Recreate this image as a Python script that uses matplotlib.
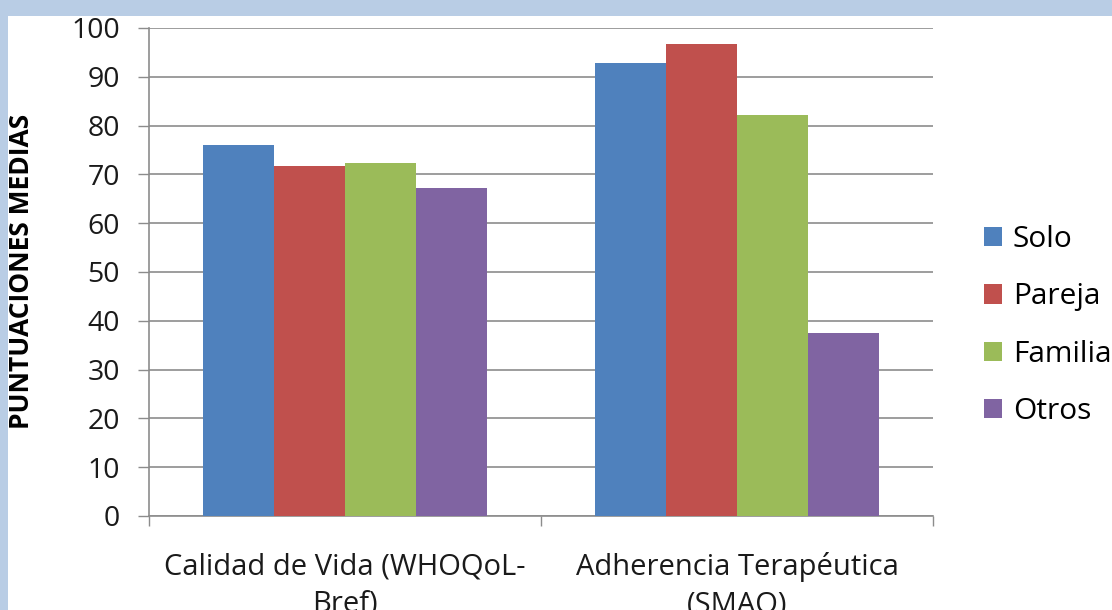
import matplotlib
matplotlib.use("Agg")
import matplotlib.pyplot as plt
from matplotlib.patches import Rectangle
import numpy as np

categories = ["Calidad de Vida (WHOQoL-\nBref)", "Adherencia Terapéutica\n(SMAQ)"]
series = ["Solo", "Pareja", "Familia", "Otros"]
values = {
    "Solo": [76.0, 92.8],
    "Pareja": [71.7, 96.8],
    "Familia": [72.4, 82.1],
    "Otros": [67.3, 37.5],
}
colors = ["#4F81BD", "#C0504D", "#9BBB59", "#8064A2"]
yticks = list(range(0, 101, 10))

plt.rcParams['font.family'] = ['Open Sans', 'DejaVu Sans']

fig = plt.figure(figsize=(11.12, 6.10), dpi=100)
fig.patch.set_facecolor("white")
fig.patches.append(Rectangle((0, 1 - 16/610), 1, 16/610, transform=fig.transFigure,
                             facecolor="#B9CDE5", edgecolor="none", zorder=0))
fig.patches.append(Rectangle((0, 0), 8/1112, 1, transform=fig.transFigure,
                             facecolor="#B9CDE5", edgecolor="none", zorder=0))

ax = fig.add_axes([149/1112, 1 - 516/610, (933-149)/1112, (516-28)/610])
n = len(series)
bw = 0.727 / n
x = np.arange(len(categories))
for i, (s, c) in enumerate(zip(series, colors)):
    ax.bar(x - 0.727/2 + bw*(i+0.5), values[s], width=bw, color=c, label=s, zorder=3)

ax.set_xlim(-0.5, len(categories) - 0.5)
ax.set_ylim(0, 100)
ax.set_yticks(yticks)
ax.set_yticklabels([str(t) for t in yticks], fontsize=20.5, color="#1a1a1a")
ax.yaxis.grid(True, color="#8C8C8C", linewidth=1.2, zorder=0)
ax.set_axisbelow(True)
ax.tick_params(axis='y', length=8, width=1, color="#8C8C8C", pad=13)
ax.set_xticks([-0.5, 0.5, 1.5])
ax.set_xticklabels([])
ax.tick_params(axis='x', length=7, width=1, color="#8C8C8C")
ax.set_xticks(x, minor=True)
ax.set_xticklabels(categories, minor=True, fontsize=21, color="#1a1a1a", linespacing=1.4)
ax.tick_params(axis='x', which='minor', length=0, pad=26)
for sp in ["top", "right"]:
    ax.spines[sp].set_visible(False)
for sp in ["left", "bottom"]:
    ax.spines[sp].set_color("#8C8C8C")
    ax.spines[sp].set_linewidth(1.2)

ax.set_ylabel("PUNTUACIONES MEDIAS", fontsize=19, fontweight="bold")
ax.yaxis.set_label_coords(-(149 - 35) / 784, (516 - 271) / 488)

leg = ax.legend(loc="center left", bbox_to_anchor=(1.065, 0.39), frameon=False,
                fontsize=21.5, handlelength=0.62, handleheight=0.62, handletextpad=0.35,
                labelspacing=0.95, borderaxespad=0, borderpad=0)

fig.savefig("out.png", dpi=100)
